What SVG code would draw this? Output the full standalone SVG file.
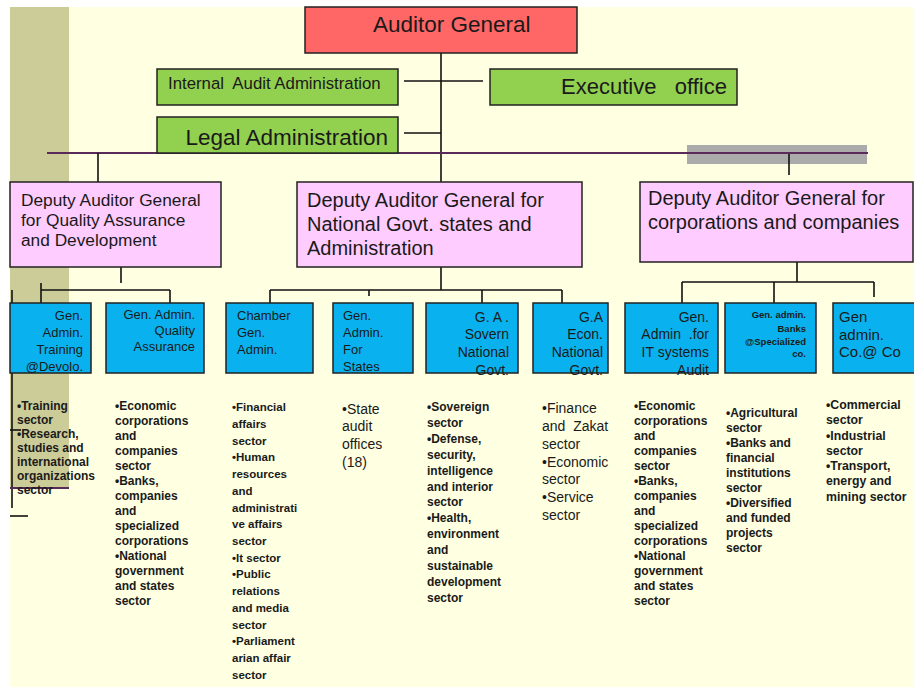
<svg xmlns="http://www.w3.org/2000/svg" width="914" height="687" viewBox="0 0 914 687">
<defs>
<style>
.t{font-family:"Liberation Sans",Arial,sans-serif;fill:#1a1a1a}
.box{stroke:#222;stroke-width:1.5}
.ag{fill:#FF6666}.gr{fill:#92D050}.pk{fill:#FFCCFF}.bl{fill:#09B2EE}
.ln{stroke:#111;stroke-width:1.6;fill:none}
.pu{stroke:#5A2A5A;stroke-width:2.2;fill:none}
.s12b{font-size:12px;font-weight:bold}
.s14{font-size:14px}
.s13{font-size:13px}
</style>
</defs>
<rect x="0" y="0" width="914" height="687" fill="#ffffff"/>
<rect x="10" y="7" width="904" height="680" fill="#FFFFE1"/>
<rect x="10" y="7" width="59" height="481" fill="#CCCC99"/>
<rect x="687" y="145" width="180" height="19" fill="#ABABAB"/>

<g id="connectors">
<line class="ln" x1="441" y1="53" x2="441" y2="182"/>
<line class="ln" x1="404" y1="81" x2="483" y2="81"/>
<line class="ln" x1="404" y1="133" x2="441" y2="133"/>
<line class="pu" x1="47" y1="153" x2="868" y2="153"/>
<line class="ln" x1="98" y1="153" x2="98" y2="182"/>
<line class="ln" x1="789" y1="154" x2="789" y2="175"/>
<line class="ln" x1="121" y1="261" x2="121" y2="283"/>
<line class="ln" x1="41" y1="290" x2="170" y2="290"/>
<line class="ln" x1="41" y1="283" x2="41" y2="311"/>
<line class="ln" x1="170" y1="290" x2="170" y2="303"/>
<line class="ln" x1="441" y1="267" x2="441" y2="290"/>
<line class="ln" x1="270" y1="290" x2="562" y2="290"/>
<line class="ln" x1="270" y1="290" x2="270" y2="303"/>
<line class="ln" x1="369" y1="290" x2="369" y2="296"/>
<line class="ln" x1="482" y1="290" x2="482" y2="311"/>
<line class="ln" x1="562" y1="290" x2="562" y2="305"/>
<line class="ln" x1="797" y1="262" x2="797" y2="282"/>
<line class="ln" x1="682" y1="282" x2="874" y2="282"/>
<line class="ln" x1="682" y1="282" x2="682" y2="310"/>
<line class="ln" x1="774" y1="282" x2="774" y2="310"/>
<line class="ln" x1="874" y1="282" x2="874" y2="297"/>
<line class="ln" x1="12" y1="290" x2="12" y2="508"/>
<line class="ln" x1="10" y1="516" x2="28" y2="516"/>
<line class="ln" x1="10" y1="430" x2="21" y2="430"/>
<line class="pu" x1="10" y1="488" x2="69" y2="488"/>
</g>

<g id="auditor-general">
<rect class="box ag" x="305" y="7" width="272" height="46"/>
<text class="t" x="373" y="32" font-size="22.5">Auditor General</text>
</g>
<g id="internal-audit">
<rect class="box gr" x="157" y="69" width="241" height="36"/>
<text class="t" x="168" y="89" font-size="16.8" xml:space="preserve">Internal  Audit Administration</text>
</g>
<g id="executive-office">
<rect class="box gr" x="490" y="69" width="247" height="36"/>
<text class="t" x="727" y="94" font-size="22" text-anchor="end" xml:space="preserve">Executive   office</text>
</g>
<g id="legal-administration">
<rect class="box gr" x="157" y="117" width="241" height="36"/>
<text class="t" x="388" y="145" font-size="22.5" text-anchor="end">Legal Administration</text>
</g>

<g id="deputy-quality">
<rect class="box pk" x="10" y="182" width="211" height="85"/>
<text class="t" font-size="17.3"><tspan x="21" y="206">Deputy Auditor General</tspan><tspan x="21" y="226">for Quality Assurance</tspan><tspan x="21" y="246">and Development</tspan></text>
</g>
<g id="deputy-national">
<rect class="box pk" x="297" y="182" width="285" height="85"/>
<text class="t" font-size="20"><tspan x="307" y="207">Deputy Auditor General for</tspan><tspan x="307" y="231">National Govt. states and</tspan><tspan x="307" y="255">Administration</tspan></text>
</g>
<g id="deputy-corporations">
<rect class="box pk" x="640" y="182" width="273" height="80"/>
<text class="t" font-size="20"><tspan x="648" y="205">Deputy Auditor General for</tspan><tspan x="648" y="229">corporations and companies</tspan></text>
</g>

<g id="gen-admin-training">
<rect class="box bl" x="10" y="303" width="81" height="70"/>
<text class="t s13" text-anchor="end"><tspan x="83" y="320">Gen.</tspan><tspan x="83" y="337">Admin.</tspan><tspan x="83" y="354">Training</tspan><tspan x="83" y="371">@Devolo.</tspan></text>
</g>
<g id="gen-admin-quality">
<rect class="box bl" x="106" y="303" width="98" height="70"/>
<text class="t s13" text-anchor="end"><tspan x="195" y="319">Gen. Admin.</tspan><tspan x="195" y="335">Quality</tspan><tspan x="195" y="351">Assurance</tspan></text>
</g>
<g id="chamber-gen-admin">
<rect class="box bl" x="226" y="303" width="87" height="70"/>
<text class="t s13"><tspan x="237" y="320">Chamber</tspan><tspan x="237" y="337">Gen.</tspan><tspan x="237" y="354">Admin.</tspan></text>
</g>
<g id="gen-admin-states">
<rect class="box bl" x="333" y="303" width="80" height="70"/>
<text class="t s13"><tspan x="343" y="320">Gen.</tspan><tspan x="343" y="337">Admin.</tspan><tspan x="343" y="354">For</tspan><tspan x="343" y="371">States</tspan></text>
</g>
<g id="ga-sovern">
<rect class="box bl" x="426" y="303" width="92" height="70"/>
<text class="t s14" text-anchor="end"><tspan x="509" y="322">G. A .</tspan><tspan x="509" y="339">Sovern</tspan><tspan x="509" y="357">National</tspan><tspan x="509" y="375">Govt.</tspan></text>
</g>
<g id="ga-econ">
<rect class="box bl" x="533" y="303" width="75" height="70"/>
<text class="t s14" text-anchor="end"><tspan x="603" y="322">G.A</tspan><tspan x="603" y="339">Econ.</tspan><tspan x="603" y="357">National</tspan><tspan x="603" y="375">Govt.</tspan></text>
</g>
<g id="gen-admin-it">
<rect class="box bl" x="625" y="303" width="93" height="70"/>
<text class="t s14" text-anchor="end" xml:space="preserve"><tspan x="709" y="322">Gen.</tspan><tspan x="709" y="339">Admin  .for</tspan><tspan x="709" y="357">IT systems</tspan><tspan x="709" y="375">Audit</tspan></text>
</g>
<g id="gen-admin-banks">
<rect class="box bl" x="725" y="303" width="91" height="70"/>
<text class="t" font-size="9.5" font-weight="bold" text-anchor="end"><tspan x="806" y="318">Gen. admin.</tspan><tspan x="806" y="332">Banks</tspan><tspan x="806" y="345">@Specialized</tspan><tspan x="806" y="357">co.</tspan></text>
</g>
<g id="gen-admin-co">
<rect class="box bl" x="833" y="303" width="85" height="70"/>
<text class="t" font-size="15"><tspan x="839" y="322">Gen</tspan><tspan x="839" y="340">admin.</tspan><tspan x="839" y="357">Co.@ Co</tspan></text>
</g>

<g id="list-training">
<text class="t s12b"><tspan x="17" y="410">•Training</tspan><tspan x="17" y="424">sector</tspan><tspan x="17" y="438">•Research,</tspan><tspan x="17" y="452">studies and</tspan><tspan x="17" y="466">international</tspan><tspan x="17" y="480">organizations</tspan><tspan x="17" y="494">sector</tspan></text>
</g>
<g id="list-quality">
<text class="t s12b"><tspan x="115" y="410">•Economic</tspan><tspan x="115" y="425">corporations</tspan><tspan x="115" y="440">and</tspan><tspan x="115" y="455">companies</tspan><tspan x="115" y="470">sector</tspan><tspan x="115" y="485">•Banks,</tspan><tspan x="115" y="500">companies</tspan><tspan x="115" y="515">and</tspan><tspan x="115" y="530">specialized</tspan><tspan x="115" y="545">corporations</tspan><tspan x="115" y="560">•National</tspan><tspan x="115" y="575">government</tspan><tspan x="115" y="590">and states</tspan><tspan x="115" y="605">sector</tspan></text>
</g>
<g id="list-chamber">
<text class="t" font-size="11.5" font-weight="bold"><tspan x="232" y="411">•Financial</tspan><tspan x="232" y="428">affairs</tspan><tspan x="232" y="445">sector</tspan><tspan x="232" y="461">•Human</tspan><tspan x="232" y="478">resources</tspan><tspan x="232" y="495">and</tspan><tspan x="232" y="512">administrati</tspan><tspan x="232" y="528">ve affairs</tspan><tspan x="232" y="545">sector</tspan><tspan x="232" y="562">•It sector</tspan><tspan x="232" y="578">•Public</tspan><tspan x="232" y="595">relations</tspan><tspan x="232" y="612">and media</tspan><tspan x="232" y="629">sector</tspan><tspan x="232" y="645">•Parliament</tspan><tspan x="232" y="662">arian affair</tspan><tspan x="232" y="679">sector</tspan></text>
</g>
<g id="list-states">
<text class="t s14"><tspan x="342" y="414">•State</tspan><tspan x="342" y="431">audit</tspan><tspan x="342" y="449">offices</tspan><tspan x="342" y="467">(18)</tspan></text>
</g>
<g id="list-sovern">
<text class="t s12b"><tspan x="427" y="411">•Sovereign</tspan><tspan x="427" y="427">sector</tspan><tspan x="427" y="443">•Defense,</tspan><tspan x="427" y="459">security,</tspan><tspan x="427" y="475">intelligence</tspan><tspan x="427" y="491">and interior</tspan><tspan x="427" y="506">sector</tspan><tspan x="427" y="522">•Health,</tspan><tspan x="427" y="538">environment</tspan><tspan x="427" y="554">and</tspan><tspan x="427" y="570">sustainable</tspan><tspan x="427" y="586">development</tspan><tspan x="427" y="602">sector</tspan></text>
</g>
<g id="list-econ">
<text class="t s14" xml:space="preserve"><tspan x="542" y="413">•Finance</tspan><tspan x="542" y="431">and  Zakat</tspan><tspan x="542" y="449">sector</tspan><tspan x="542" y="467">•Economic</tspan><tspan x="542" y="484">sector</tspan><tspan x="542" y="502">•Service</tspan><tspan x="542" y="520">sector</tspan></text>
</g>
<g id="list-it">
<text class="t s12b"><tspan x="634" y="410">•Economic</tspan><tspan x="634" y="425">corporations</tspan><tspan x="634" y="440">and</tspan><tspan x="634" y="455">companies</tspan><tspan x="634" y="470">sector</tspan><tspan x="634" y="485">•Banks,</tspan><tspan x="634" y="500">companies</tspan><tspan x="634" y="515">and</tspan><tspan x="634" y="530">specialized</tspan><tspan x="634" y="545">corporations</tspan><tspan x="634" y="560">•National</tspan><tspan x="634" y="575">government</tspan><tspan x="634" y="590">and states</tspan><tspan x="634" y="605">sector</tspan></text>
</g>
<g id="list-banks">
<text class="t s12b"><tspan x="726" y="417">•Agricultural</tspan><tspan x="726" y="432">sector</tspan><tspan x="726" y="447">•Banks and</tspan><tspan x="726" y="462">financial</tspan><tspan x="726" y="477">institutions</tspan><tspan x="726" y="492">sector</tspan><tspan x="726" y="507">•Diversified</tspan><tspan x="726" y="522">and funded</tspan><tspan x="726" y="537">projects</tspan><tspan x="726" y="552">sector</tspan></text>
</g>
<g id="list-co">
<text class="t" font-size="12.3" font-weight="bold"><tspan x="826" y="409">•Commercial</tspan><tspan x="826" y="424">sector</tspan><tspan x="826" y="440">•Industrial</tspan><tspan x="826" y="455">sector</tspan><tspan x="826" y="470">•Transport,</tspan><tspan x="826" y="485">energy and</tspan><tspan x="826" y="501">mining sector</tspan></text>
</g>
</svg>
